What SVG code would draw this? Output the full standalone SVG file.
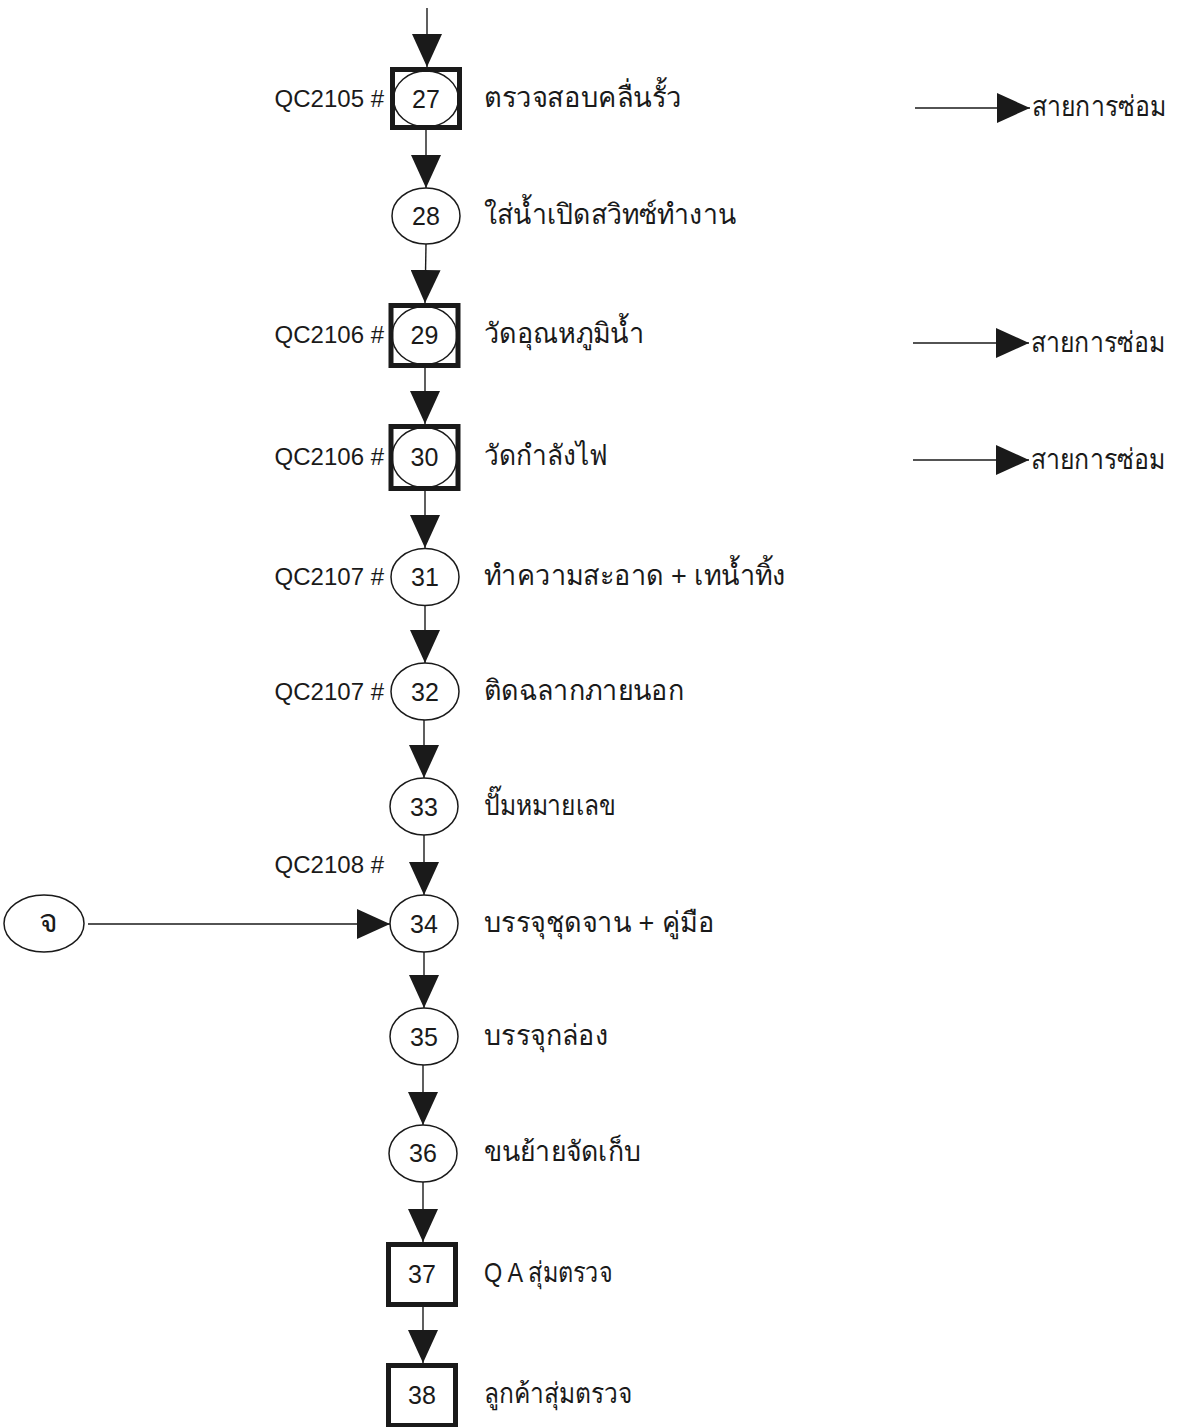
<svg xmlns="http://www.w3.org/2000/svg" width="1181" height="1427" viewBox="0 0 1181 1427">
<defs>
<style>
.bg{fill:#ffffff}
.num{font-family:"Liberation Sans",Arial,sans-serif;font-size:25px;fill:#1a1a1a;text-anchor:middle}
.qc{font-family:"Liberation Sans",Arial,sans-serif;font-size:24px;fill:#1a1a1a;text-anchor:end}
.th{font-family:"Liberation Sans","Noto Sans","DejaVu Sans",sans-serif;font-size:28px;fill:#1a1a1a}
.box{fill:#ffffff;stroke:#1a1a1a;stroke-width:5}
.ell{fill:#ffffff;stroke:#1a1a1a;stroke-width:1.5}
.ellin{fill:none;stroke:#1a1a1a;stroke-width:1.5}
.con line{stroke:#1a1a1a;stroke-width:1.4;marker-end:url(#ah)}
</style>
<marker id="ah" markerUnits="userSpaceOnUse" markerWidth="33" markerHeight="30" refX="33" refY="15" orient="auto" viewBox="0 0 33 30">
<path d="M0,0 L33,15 L0,30 Z" fill="#1a1a1a"/>
</marker>
</defs>
<rect class="bg" x="0" y="0" width="1181" height="1427"/>

<g id="connectors" class="con">
<line x1="427" y1="8" x2="427" y2="67"/>
<line x1="426" y1="130" x2="426" y2="188"/>
<line x1="426" y1="244" x2="425" y2="303"/>
<line x1="425" y1="368" x2="425" y2="424"/>
<line x1="425" y1="491" x2="425" y2="548"/>
<line x1="425" y1="605" x2="425" y2="663"/>
<line x1="424" y1="720" x2="424" y2="778"/>
<line x1="424" y1="835" x2="424" y2="895"/>
<line x1="424" y1="952" x2="424" y2="1008"/>
<line x1="423" y1="1065" x2="423" y2="1125"/>
<line x1="423" y1="1182" x2="423" y2="1242"/>
<line x1="423" y1="1307" x2="423" y2="1363"/>
<line x1="88" y1="924" x2="390" y2="924"/>
<line x1="915" y1="108" x2="1030" y2="108"/>
<line x1="913" y1="343" x2="1029" y2="343"/>
<line x1="913" y1="460" x2="1029" y2="460"/>
</g>

<g id="node27">
<rect class="box" x="392.5" y="69.5" width="67" height="58"/>
<ellipse class="ellin" cx="426" cy="99" rx="32.5" ry="28"/>
<text class="num" x="426" y="108">27</text>
<text class="qc" x="384" y="107">QC2105 #</text>
<text class="th" x="484" y="107" textLength="198" lengthAdjust="spacingAndGlyphs">ตรวจสอบคลื่นรั้ว</text>
</g>

<g id="node28">
<ellipse class="ell" cx="426" cy="216" rx="34" ry="28"/>
<text class="num" x="426" y="225">28</text>
<text class="th" x="484" y="224" textLength="252" lengthAdjust="spacingAndGlyphs">ใส่น้ำเปิดสวิทซ์ทำงาน</text>
</g>

<g id="node29">
<rect class="box" x="391" y="305.5" width="67" height="60"/>
<ellipse class="ellin" cx="424.5" cy="335.5" rx="32.5" ry="29"/>
<text class="num" x="424.5" y="344">29</text>
<text class="qc" x="384" y="343">QC2106 #</text>
<text class="th" x="484" y="343" textLength="160" lengthAdjust="spacingAndGlyphs">วัดอุณหภูมิน้ำ</text>
</g>

<g id="node30">
<rect class="box" x="391" y="426.5" width="67" height="62"/>
<ellipse class="ellin" cx="424.5" cy="457.5" rx="32.5" ry="30"/>
<text class="num" x="424.5" y="466">30</text>
<text class="qc" x="384" y="465">QC2106 #</text>
<text class="th" x="484" y="465" textLength="124" lengthAdjust="spacingAndGlyphs">วัดกำลังไฟ</text>
</g>

<g id="node31">
<ellipse class="ell" cx="425" cy="577" rx="34" ry="28.5"/>
<text class="num" x="425" y="586">31</text>
<text class="qc" x="384" y="585">QC2107 #</text>
<text class="th" x="484" y="585" textLength="302" lengthAdjust="spacingAndGlyphs">ทำความสะอาด + เทน้ำทิ้ง</text>
</g>

<g id="node32">
<ellipse class="ell" cx="425" cy="691.5" rx="34" ry="28.5"/>
<text class="num" x="425" y="700.5">32</text>
<text class="qc" x="384" y="699.5">QC2107 #</text>
<text class="th" x="484" y="699.5" textLength="200" lengthAdjust="spacingAndGlyphs">ติดฉลากภายนอก</text>
</g>

<g id="node33">
<ellipse class="ell" cx="424" cy="806.5" rx="34" ry="28.5"/>
<text class="num" x="424" y="815.5">33</text>
<text class="th" x="484" y="814.5" textLength="132" lengthAdjust="spacingAndGlyphs">ปั๊มหมายเลข</text>
</g>

<g id="node34">
<ellipse class="ell" cx="424" cy="923.5" rx="34" ry="28.5"/>
<text class="num" x="424" y="932.5">34</text>
<text class="qc" x="384" y="873">QC2108 #</text>
<text class="th" x="484" y="931.5" textLength="230" lengthAdjust="spacingAndGlyphs">บรรจุชุดจาน + คู่มือ</text>
</g>

<g id="nodeJ">
<ellipse class="ell" cx="44" cy="923.5" rx="40" ry="28.5"/>
<text class="th" x="48" y="932" text-anchor="middle" style="font-size:32px">จ</text>
</g>

<g id="node35">
<ellipse class="ell" cx="424" cy="1036.5" rx="34" ry="28.5"/>
<text class="num" x="424" y="1045.5">35</text>
<text class="th" x="484" y="1045" textLength="124" lengthAdjust="spacingAndGlyphs">บรรจุกล่อง</text>
</g>

<g id="node36">
<ellipse class="ell" cx="423" cy="1153.5" rx="34" ry="28.5"/>
<text class="num" x="423" y="1162">36</text>
<text class="th" x="484" y="1161" textLength="157" lengthAdjust="spacingAndGlyphs">ขนย้ายจัดเก็บ</text>
</g>

<g id="node37">
<rect class="box" x="388.5" y="1244.5" width="67" height="60"/>
<text class="num" x="422" y="1283">37</text>
<text class="th" x="484" y="1282" textLength="128" lengthAdjust="spacingAndGlyphs">Q A สุ่มตรวจ</text>
</g>

<g id="node38">
<rect class="box" x="388.5" y="1365.5" width="67" height="60"/>
<text class="num" x="422" y="1404">38</text>
<text class="th" x="484" y="1403" textLength="148" lengthAdjust="spacingAndGlyphs">ลูกค้าสุ่มตรวจ</text>
</g>

<g id="repair1">
<text class="th" x="1032" y="116" textLength="134" lengthAdjust="spacingAndGlyphs">สายการซ่อม</text>
</g>
<g id="repair2">
<text class="th" x="1031" y="352" textLength="134" lengthAdjust="spacingAndGlyphs">สายการซ่อม</text>
</g>
<g id="repair3">
<text class="th" x="1031" y="469" textLength="134" lengthAdjust="spacingAndGlyphs">สายการซ่อม</text>
</g>
</svg>
